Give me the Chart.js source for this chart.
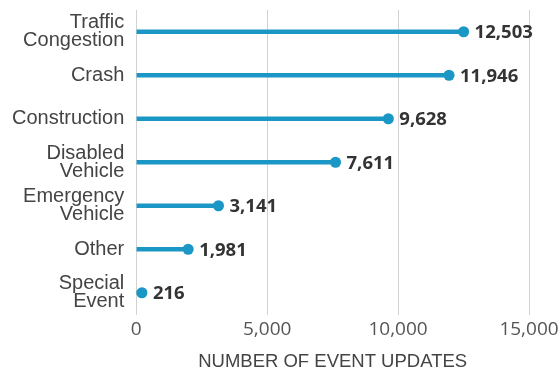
<!DOCTYPE html>
<html><head><meta charset="utf-8">
<script src="https://cdn.jsdelivr.net/npm/chart.js@4"></script>
<style>html,body{margin:0;padding:0;background:#fff}#wrap{width:560px;height:371px}</style>
</head><body><div id="wrap"><canvas id="c"></canvas></div>
<script>
const categories = [["Traffic","Congestion"],"Crash","Construction",["Disabled","Vehicle"],["Emergency","Vehicle"],"Other",["Special","Event"]];
const eventUpdates = [12503, 11946, 9628, 7611, 3141, 1981, 216];
const xTicks = [0, 5000, 10000, 15000];
const color = '#1a97c4';

const labelPlugin = {
  id: 'valLabels',
  afterDatasetsDraw(chart) {
    const ctx = chart.ctx;
    const meta = chart.getDatasetMeta(1);
    ctx.save();
    ctx.font = 'bold 18.5px "Open Sans"';
    ctx.fillStyle = '#333';
    ctx.textBaseline = 'middle';
    ctx.textAlign = 'left';
    meta.data.forEach((pt, i) => {
      ctx.fillText(eventUpdates[i].toLocaleString('en-US'), pt.x + 11, pt.y + 1);
    });
    ctx.restore();
  }
};

new Chart(document.getElementById('c'), {
  data: {
    labels: categories,
    datasets: [
      { type: 'bar', data: eventUpdates, backgroundColor: color, barThickness: 4, order: 2 },
      { type: 'line', data: eventUpdates, showLine: false, pointRadius: 5.5, pointBackgroundColor: color, pointBorderWidth: 0, order: 1 }
    ]
  },
  options: {
    indexAxis: 'y',
    responsive: true,
    maintainAspectRatio: false,
    animation: false,
    layout: { padding: { top: 10, right: 0, left: 0, bottom: 0 } },
    plugins: { legend: { display: false }, tooltip: { enabled: false } },
    scales: {
      x: {
        min: 0, max: 15000,
        afterBuildTicks: (s) => { s.ticks = xTicks.map(v => ({ value: v })); },
        afterFit: (s) => { s.paddingRight = 31; },
        grid: { color: '#d2d2d2', lineWidth: 1, drawTicks: false },
        border: { display: false },
        ticks: { color: '#555', font: { family: '"Open Sans"', size: 19, lineHeight: 1 }, padding: 6,
                 callback: (v) => Number(v).toLocaleString('en-US') },
        title: { display: true, text: 'NUMBER OF EVENT UPDATES', color: '#444',
                 font: { family: '"Liberation Sans"', size: 18.5, lineHeight: 1 }, padding: { top: 7, bottom: 0 } }
      },
      y: {
        offset: true,
        afterFit: (s) => { s.paddingTop = 0; s.paddingBottom = 0; },
        grid: { display: false, drawTicks: false },
        border: { display: true, color: '#d2d2d2', width: 1 },
        ticks: { color: '#444', font: { family: '"Liberation Sans"', size: 20, lineHeight: 0.9 }, padding: 12 }
      }
    }
  },
  plugins: [labelPlugin]
});
</script></body></html>
